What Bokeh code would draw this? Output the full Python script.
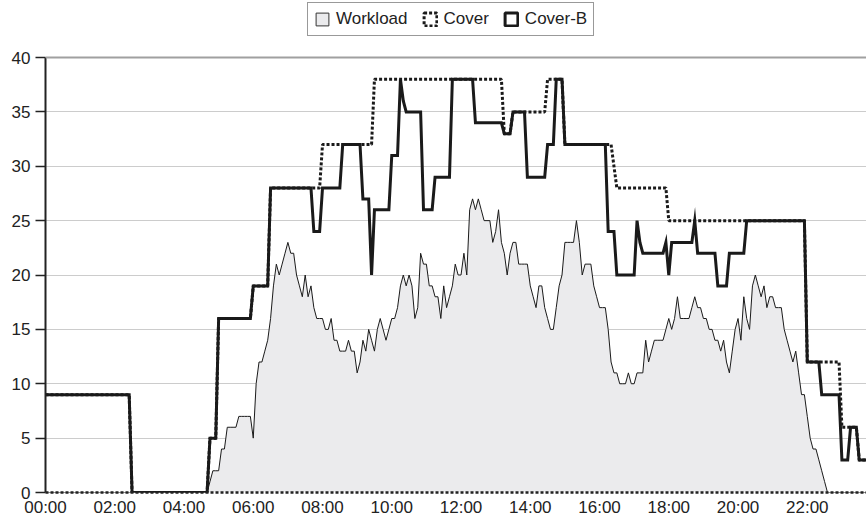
from bokeh.plotting import figure
from bokeh.models import (ColumnDataSource, Range1d, FixedTicker, Legend,
                          LegendItem, Span)
from bokeh.embed import file_html
from bokeh.resources import INLINE

# ---------------- data (one value every 5 minutes, 24 values per row = 2 h) -------------
step_minutes = 5

workload = [
    0, 0, 0, 0, 0, 0, 0, 0, 0, 0, 0, 0, 0, 0, 0, 0, 0, 0, 0, 0, 0, 0, 0, 0,
    0, 0, 0, 0, 0, 0, 0, 0, 0, 0, 0, 0, 0, 0, 0, 0, 0, 0, 0, 0, 0, 0, 0, 0,
    0, 0, 0, 0, 0, 0, 0, 0, 0, 1, 2, 2, 2, 4, 4, 6, 6, 6, 6, 7, 7, 7, 7, 7,
    5, 10, 12, 12, 13, 14, 16, 19, 21, 20, 21, 22, 23, 22, 22, 20, 19, 18, 20, 18, 19, 17, 16, 16,
    16, 15, 15, 16, 14, 14, 13, 13, 13, 14, 13, 13, 11, 12, 14, 13, 15, 14, 13, 15, 16, 15, 14, 15,
    16, 16, 17, 19, 20, 19, 20, 19, 16, 17, 22, 21, 21, 19, 19, 18, 18, 16, 19, 17, 18, 19, 21, 20,
    20, 22, 20, 26, 27, 26, 27, 26, 25, 25, 25, 23, 24, 26, 23, 22, 20, 22, 23, 23, 21, 21, 21, 21,
    19, 18, 17, 19, 19, 17, 16, 15, 15, 17, 19, 20, 23, 23, 23, 23, 25, 23, 20, 21, 21, 21, 19, 18,
    17, 17, 17, 15, 12, 11, 11, 10, 10, 10, 11, 10, 10, 11, 11, 11, 14, 12, 13, 14, 14, 14, 14, 15,
    16, 15, 16, 18, 16, 16, 16, 16, 17, 18, 17, 17, 16, 16, 15, 15, 14, 14, 13, 14, 12, 11, 13, 15,
    16, 14, 18, 16, 15, 19, 20, 19, 18, 19, 17, 18, 18, 17, 17, 17, 15, 14, 13, 12, 13, 11, 9, 9,
    7, 5, 4, 4, 3, 2, 1, 0, 0, 0, 0, 0, 0, 0, 0, 0, 0, 0, 0, 0, 0, 0, 0, 0,
]

cover = [
    9, 9, 9, 9, 9, 9, 9, 9, 9, 9, 9, 9, 9, 9, 9, 9, 9, 9, 9, 9, 9, 9, 9, 9,
    9, 9, 9, 9, 9, 9, 0, 0, 0, 0, 0, 0, 0, 0, 0, 0, 0, 0, 0, 0, 0, 0, 0, 0,
    0, 0, 0, 0, 0, 0, 0, 0, 0, 5, 5, 5, 16, 16, 16, 16, 16, 16, 16, 16, 16, 16, 16, 16,
    19, 19, 19, 19, 19, 19, 28, 28, 28, 28, 28, 28, 28, 28, 28, 28, 28, 28, 28, 28, 28, 28, 28, 28,
    32, 32, 32, 32, 32, 32, 32, 32, 32, 32, 32, 32, 32, 32, 32, 32, 32, 32, 38, 38, 38, 38, 38, 38,
    38, 38, 38, 38, 38, 38, 38, 38, 38, 38, 38, 38, 38, 38, 38, 38, 38, 38, 38, 38, 38, 38, 38, 38,
    38, 38, 38, 38, 38, 38, 38, 38, 38, 38, 38, 38, 38, 38, 38, 33, 33, 33, 35, 35, 35, 35, 35, 35,
    35, 35, 35, 35, 35, 35, 38, 38, 38, 38, 38, 38, 32, 32, 32, 32, 32, 32, 32, 32, 32, 32, 32, 32,
    32, 32, 32, 32, 32, 30, 28, 28, 28, 28, 28, 28, 28, 28, 28, 28, 28, 28, 28, 28, 28, 28, 28, 28,
    25, 25, 25, 25, 25, 25, 25, 25, 25, 25, 25, 25, 25, 25, 25, 25, 25, 25, 25, 25, 25, 25, 25, 25,
    25, 25, 25, 25, 25, 25, 25, 25, 25, 25, 25, 25, 25, 25, 25, 25, 25, 25, 25, 25, 25, 25, 25, 25,
    12, 12, 12, 12, 12, 12, 12, 12, 12, 12, 12, 12, 6, 6, 6, 6, 6, 6, 3, 3, 3, 3, 3, 3,
]

cover_b = [
    9, 9, 9, 9, 9, 9, 9, 9, 9, 9, 9, 9, 9, 9, 9, 9, 9, 9, 9, 9, 9, 9, 9, 9,
    9, 9, 9, 9, 9, 9, 0, 0, 0, 0, 0, 0, 0, 0, 0, 0, 0, 0, 0, 0, 0, 0, 0, 0,
    0, 0, 0, 0, 0, 0, 0, 0, 0, 5, 5, 5, 16, 16, 16, 16, 16, 16, 16, 16, 16, 16, 16, 16,
    19, 19, 19, 19, 19, 19, 28, 28, 28, 28, 28, 28, 28, 28, 28, 28, 28, 28, 28, 28, 28, 24, 24, 24,
    28, 28, 28, 28, 28, 28, 28, 32, 32, 32, 32, 32, 32, 32, 27, 27, 27, 20, 26, 26, 26, 26, 26, 26,
    31, 31, 31, 38, 36, 35, 35, 35, 35, 35, 35, 26, 26, 26, 26, 29, 29, 29, 29, 29, 29, 38, 38, 38,
    38, 38, 38, 38, 38, 34, 34, 34, 34, 34, 34, 34, 34, 34, 34, 33, 33, 33, 35, 35, 35, 35, 35, 29,
    29, 29, 29, 29, 29, 29, 32, 32, 32, 38, 38, 38, 32, 32, 32, 32, 32, 32, 32, 32, 32, 32, 32, 32,
    32, 32, 32, 24, 24, 24, 20, 20, 20, 20, 20, 20, 20, 25, 23, 22, 22, 22, 22, 22, 22, 22, 22, 23,
    20, 23, 23, 23, 23, 23, 23, 23, 23, 25, 22, 22, 22, 22, 22, 22, 22, 19, 19, 19, 19, 22, 22, 22,
    22, 22, 22, 25, 25, 25, 25, 25, 25, 25, 25, 25, 25, 25, 25, 25, 25, 25, 25, 25, 25, 25, 25, 25,
    12, 12, 12, 12, 12, 9, 9, 9, 9, 9, 9, 9, 3, 3, 3, 6, 6, 6, 3, 3, 3, 3, 3, 3,
]

series_names = ["Workload", "Cover", "Cover-B"]
tick_hours = [0, 2, 4, 6, 8, 10, 12, 14, 16, 18, 20, 22]
tick_labels = ["00:00", "02:00", "04:00", "06:00", "08:00", "10:00",
               "12:00", "14:00", "16:00", "18:00", "20:00", "22:00"]
y_ticks = [0, 5, 10, 15, 20, 25, 30, 35, 40]
y_max = 40

# sample times in hours
hours = [i * step_minutes / 60 for i in range(len(workload))]

# ---------------- styling -------------------------------------------------------------
FONT = "Liberation Sans"
INK = "#1a1a1a"
AREA = "#ebebed"

W, H = 866, 521
B_LEFT, B_RIGHT, B_TOP, B_BOTTOM = 45, 0, 2, 29
frame_h = H - B_TOP - B_BOTTOM          # 490 px
px_per_unit = 10.875                    # same vertical scale as the original
y_top = frame_h / px_per_unit           # room above 40 for the legend

p = figure(width=W, height=H, output_backend="svg", toolbar_location=None,
           x_range=Range1d(0, 23.71), y_range=Range1d(0, y_top),
           min_border_left=B_LEFT, min_border_right=B_RIGHT,
           min_border_top=B_TOP, min_border_bottom=B_BOTTOM)
p.outline_line_color = None
p.background_fill_color = "white"
p.border_fill_color = "white"

p.xgrid.visible = False
p.ygrid.ticker = FixedTicker(ticks=y_ticks[:-1])
p.ygrid.grid_line_color = "#cccccc"
p.ygrid.grid_line_width = 1

p.yaxis.bounds = (0, y_max)
p.yaxis.ticker = FixedTicker(ticks=y_ticks)
p.yaxis.major_label_text_font = FONT
p.yaxis.major_label_text_font_size = "17px"
p.yaxis.major_label_text_color = "#222222"
p.yaxis.major_tick_out = 10
p.yaxis.major_tick_in = 0
p.yaxis.major_tick_line_color = "#222222"
p.yaxis.major_tick_line_width = 1.5
p.yaxis.minor_tick_line_color = None
p.yaxis.axis_line_color = "#222222"
p.yaxis.axis_line_width = 2
p.yaxis.major_label_standoff = 5

p.xaxis.ticker = FixedTicker(ticks=tick_hours)
p.xaxis.major_label_overrides = {h: lab for h, lab in zip(tick_hours, tick_labels)}
p.xaxis.major_label_text_font = FONT
p.xaxis.major_label_text_font_size = "17px"
p.xaxis.major_label_text_color = "#222222"
p.xaxis.major_tick_out = 0
p.xaxis.major_tick_in = 0
p.xaxis.major_tick_line_color = None
p.xaxis.minor_tick_line_color = None
p.xaxis.axis_line_color = "#222222"
p.xaxis.axis_line_width = 2.5
p.xaxis.axis_line_dash = "3 2"
p.xaxis.major_label_standoff = 5

# top boundary line of the value area
p.add_layout(Span(location=y_max, dimension="width", line_color="#a0a0a0", line_width=2))

src = ColumnDataSource(dict(t=hours, w=workload, c=cover, cb=cover_b))

p.varea(x="t", y1=0, y2="w", source=src, fill_color=AREA)
p.line(x="t", y="w", source=src, line_color=INK, line_width=1)
p.line(x="t", y="cb", source=src, line_color=INK, line_width=3, line_join="miter")
p.line(x="t", y="c", source=src, line_color=INK, line_width=3, line_dash="3 2")

# legend swatches (square boxes like the original); one invisible NaN row each
nan = float("nan")
dummy = ColumnDataSource(dict(l=[nan], r=[nan], b=[nan], t=[nan]))
sw_w = p.quad(left="l", right="r", bottom="b", top="t", source=dummy,
              fill_color=AREA, line_color="#333333", line_width=1)
sw_c = p.quad(left="l", right="r", bottom="b", top="t", source=dummy,
              fill_color="white", line_color=INK, line_width=3, line_dash="3 2")
sw_cb = p.quad(left="l", right="r", bottom="b", top="t", source=dummy,
               fill_color="white", line_color=INK, line_width=3)

legend = Legend(
    items=[LegendItem(label=series_names[0], renderers=[sw_w]),
           LegendItem(label=series_names[1], renderers=[sw_c]),
           LegendItem(label=series_names[2], renderers=[sw_cb])],
    orientation="horizontal",
    location=(262, frame_h - 34),
    glyph_width=16, glyph_height=16,
    label_text_font=FONT, label_text_font_size="17px", label_text_color="#222222",
    label_standoff=6, spacing=14, padding=6, margin=0,
    border_line_color="#333333", border_line_width=1.5,
    background_fill_color="white", background_fill_alpha=1.0,
)
p.add_layout(legend)

open("out.html", "w").write(file_html(p, INLINE))
